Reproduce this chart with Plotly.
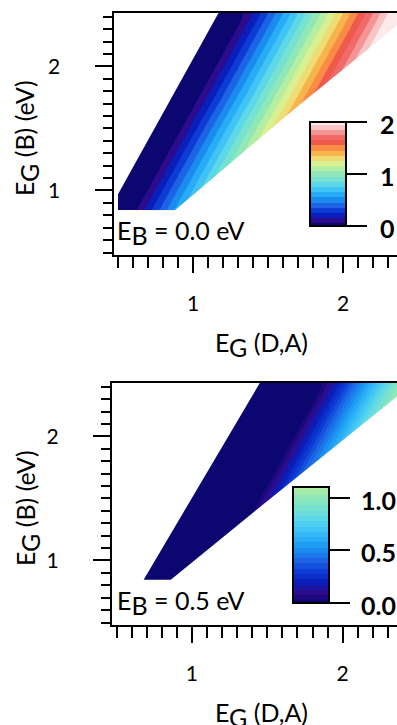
import plotly.graph_objects as go

# ---------------- data ----------------
# panel E_B = 0.0 eV : grid columns / rows and map values (rows follow eg_b_top)
eg_da_top = [0.5, 0.6, 0.7, 0.8, 0.9, 1.0, 1.1, 1.2, 1.3, 1.4,
             1.5, 1.6, 1.7, 1.8, 1.9, 2.0, 2.1, 2.2, 2.3, 2.4]
eg_b_top = [0.84, 1.06, 1.28, 1.50, 1.72, 1.94, 2.16, 2.38, 2.43]
N = None
z_eb00 = [
    [0, 0, 0.20, 0.40, 0.60, 0.80, 1.00, 1.20, N, N, N, N, N, N, N, N, N, N, N, N],
    [0, 0, 0, 0.20, 0.40, 0.60, 0.80, 1.00, 1.20, 1.40, N, N, N, N, N, N, N, N, N, N],
    [0, 0, 0, 0, 0.20, 0.40, 0.60, 0.80, 1.00, 1.20, 1.40, 1.60, N, N, N, N, N, N, N, N],
    [N, 0, 0, 0, 0, 0.20, 0.40, 0.60, 0.80, 1.00, 1.20, 1.40, 1.60, 1.80, N, N, N, N, N, N],
    [N, N, 0, 0, 0, 0, 0.19, 0.39, 0.59, 0.79, 0.99, 1.19, 1.39, 1.59, 1.79, 1.99, 2.19, N, N, N],
    [N, N, N, 0, 0, 0, 0, 0.19, 0.39, 0.59, 0.79, 0.99, 1.19, 1.39, 1.59, 1.79, 1.99, 2.19, 2.39, N],
    [N, N, N, N, 0, 0, 0, 0, 0.19, 0.39, 0.59, 0.79, 0.99, 1.19, 1.39, 1.59, 1.79, 1.99, 2.19, 2.39],
    [N, N, N, N, N, 0, 0, 0, 0, 0.19, 0.39, 0.59, 0.79, 0.99, 1.19, 1.39, 1.59, 1.79, 1.99, 2.19],
    [N, N, N, N, N, 0, 0, 0, 0, 0.15, 0.35, 0.55, 0.75, 0.95, 1.15, 1.35, 1.55, 1.75, 1.95, 2.15],
]

# panel E_B = 0.5 eV
eg_da_bot = [0.54, 0.64, 0.74, 0.84, 0.94, 1.04, 1.14, 1.24, 1.34, 1.44,
             1.54, 1.64, 1.74, 1.84, 1.94, 2.04, 2.14, 2.24, 2.34, 2.44]
eg_b_bot = [0.84, 1.06, 1.28, 1.50, 1.72, 1.94, 2.16, 2.38, 2.43]
z_eb05 = [
    [0, 0, 0, 0, 0, 0, 0, N, N, N, N, N, N, N, N, N, N, N, N, N],
    [N, 0, 0, 0, 0, 0, 0, 0, 0.19, N, N, N, N, N, N, N, N, N, N, N],
    [N, N, 0, 0, 0, 0, 0, 0, 0, 0.19, 0.38, N, N, N, N, N, N, N, N, N],
    [N, N, N, 0, 0, 0, 0, 0, 0, 0, 0.19, 0.38, 0.57, 0.76, N, N, N, N, N, N],
    [N, N, N, N, 0, 0, 0, 0, 0, 0, 0, 0.19, 0.38, 0.57, 0.76, 0.95, N, N, N, N],
    [N, N, N, N, N, 0, 0, 0, 0, 0, 0, 0, 0.19, 0.38, 0.57, 0.76, 0.95, 1.14, N, N],
    [N, N, N, N, N, N, 0, 0, 0, 0, 0, 0, 0, 0.19, 0.38, 0.57, 0.76, 0.95, 1.14, 1.33],
    [N, N, N, N, N, N, N, 0, 0, 0, 0, 0, 0, 0, 0.19, 0.38, 0.57, 0.76, 0.95, 1.14],
    [N, N, N, N, N, N, N, 0, 0, 0, 0, 0, 0, 0, 0.14, 0.33, 0.52, 0.71, 0.90, 1.09],
]

# edges of the computed region (where the maps stop)
eb00_upper_edge_x = [1.17, 0.50, 0.50]
eb00_upper_edge_y = [2.43, 0.97, 0.84]
eb00_lower_edge_x = [0.88, 1.66, 2.36, 2.45]
eb00_lower_edge_y = [0.84, 1.64, 2.33, 2.42]
eb05_upper_edge_x = [1.45, 0.68]
eb05_upper_edge_y = [2.43, 0.845]
eb05_lower_edge_x = [0.86, 1.415, 2.37, 2.45]
eb05_lower_edge_y = [0.845, 1.395, 2.33, 2.41]

panel_labels = ["0.0 eV", "0.5 eV"]

# colour bar ticks
cb_top_ticks = [0, 1, 2]
cb_top_text = ["0", "1", "2"]
cb_bot_ticks = [0.0, 0.5, 1.0]
cb_bot_text = ["0.0", "0.5", "1.0"]

# colour table: value -> colour
cb_values = [0.0, 0.1, 0.2, 0.3, 0.4, 0.5, 0.6, 0.7, 0.8, 0.9, 1.0,
             1.1, 1.2, 1.3, 1.4, 1.5, 1.6, 1.7, 1.8, 1.9, 2.0]
cb_colors = ["#0b0670", "#2c0c8c", "#0a1ebc", "#0c3cd4", "#1c64e4", "#1a8cf0",
             "#28acf6", "#40c4f6", "#5cd8e8", "#78e2d0", "#90e8b8", "#b4eea0",
             "#d8f090", "#f0dc74", "#f8b44c", "#f88c44", "#f05a4c", "#f06a6a",
             "#f49494", "#f8c4c4", "#fdeaea"]

# ---------------- figure ----------------
W, H = 397, 725
FONT = "Lato"
TS = 25  # title / label font size

TOP_MAX, BOT_MAX = 2.0, 1.1
top_scale = [[v / TOP_MAX, c] for v, c in zip(cb_values, cb_colors)]
bot_scale = [[v / BOT_MAX, c] for v, c in zip(cb_values, cb_colors) if v <= BOT_MAX + 1e-6]


def px_x(p):
    return p / W


def px_y(p):
    return 1 - p / H


def sub(main, s):
    return f"{main}<sub><span style='font-size:{TS}px'>{s}</span></sub>"


fig = go.Figure()

# colour bar geometry (pixels)
CB_TOP = dict(x=310, top=122, len=104)
CB_BOT = dict(x=293, top=487, len=116)

cb_common = dict(
    xanchor="left", yanchor="top", xpad=0, ypad=0, lenmode="pixels",
    thickness=36, outlinewidth=2, outlinecolor="black",
    ticks="outside", ticklen=20, tickwidth=2, tickcolor="black",
    showticklabels=False, borderwidth=0,
)

fig.add_trace(go.Contour(
    x=eg_da_top, y=eg_b_top, z=z_eb00, xaxis="x", yaxis="y",
    autocontour=False,
    contours=dict(start=0.05, end=1.95, size=0.1, coloring="fill", showlines=False),
    line=dict(width=0, smoothing=0), colorscale=top_scale, hoverinfo="skip",
    colorbar=dict(x=px_x(CB_TOP["x"]), y=px_y(CB_TOP["top"]), len=CB_TOP["len"],
                  tickvals=cb_top_ticks, **cb_common),
))
fig.add_trace(go.Contour(
    x=eg_da_bot, y=eg_b_bot, z=z_eb05, xaxis="x2", yaxis="y2",
    autocontour=False,
    contours=dict(start=0.025, end=1.075, size=0.05, coloring="fill", showlines=False),
    line=dict(width=0, smoothing=0), colorscale=bot_scale, hoverinfo="skip",
    colorbar=dict(x=px_x(CB_BOT["x"]), y=px_y(CB_BOT["top"]), len=CB_BOT["len"],
                  tickvals=cb_bot_ticks, **cb_common),
))


def mask(ux, uy, lx, ly, xa, ya):
    xs = [0.3] + ux + lx + [2.6, 2.6, 0.3, 0.3]
    ys = [uy[0]] + uy + ly + [ly[-1], 0.3, 0.3, uy[0]]
    return go.Scatter(x=xs, y=ys, xaxis=xa, yaxis=ya, mode="lines", fill="toself",
                      fillcolor="white", line=dict(width=0, color="white"),
                      hoverinfo="skip", showlegend=False)


fig.add_trace(mask(eb00_upper_edge_x, eb00_upper_edge_y,
                   eb00_lower_edge_x, eb00_lower_edge_y, "x", "y"))
fig.add_trace(mask(eb05_upper_edge_x, eb05_upper_edge_y,
                   eb05_lower_edge_x, eb05_lower_edge_y, "x2", "y2"))

xaxis_common = dict(
    showgrid=False, zeroline=False, showline=True, linewidth=2, linecolor="black",
    mirror=True, ticks="outside", tick0=0, dtick=1, ticklen=16, tickwidth=2,
    tickcolor="black", tickfont=dict(family=FONT, size=21, color="black"),
    ticklabelstandoff=13,
    minor=dict(ticks="outside", tick0=0, dtick=0.1, ticklen=11, tickwidth=2,
               tickcolor="black"),
    range=[0.47, 2.36],
)
yaxis_common = dict(
    showgrid=False, zeroline=False, showline=True, linewidth=2, linecolor="black",
    mirror=False, ticks="outside", tick0=0, dtick=1, ticklen=17, tickwidth=2,
    tickcolor="black", tickfont=dict(family=FONT, size=21, color="black"),
    ticklabelstandoff=30,
    minor=dict(ticks="outside", tick0=0, dtick=0.1, ticklen=9, tickwidth=2,
               tickcolor="black"),
    range=[0.48, 2.43],
)

fig.update_layout(
    width=W, height=H, margin=dict(l=0, r=0, t=0, b=0, autoexpand=False),
    paper_bgcolor="white", plot_bgcolor="white", showlegend=False,
    font=dict(family=FONT, color="black"),
    xaxis=dict(domain=[px_x(113.5), 1], anchor="y", **xaxis_common),
    yaxis=dict(domain=[px_y(255), px_y(13)], anchor="x", **yaxis_common),
    xaxis2=dict(domain=[px_x(112), 1], anchor="y2", **xaxis_common),
    yaxis2=dict(domain=[px_y(625), px_y(383)], anchor="x2", **yaxis_common),
)

title_font = dict(family=FONT, size=TS, color="black")
cb_font = dict(family=FONT, size=25, color="black", weight="bold")
xtitle = sub("E", "G") + " (D,A)"
ytitle = sub("E", "G") + " (B) (eV)"
annos = []
for k, off in enumerate([0, 370]):
    annos.append(dict(text=xtitle, xref="paper", yref="paper", x=px_x(261),
                      y=px_y(344 + off), xanchor="center", yanchor="middle",
                      showarrow=False, font=title_font))
    annos.append(dict(text=ytitle, xref="paper", yref="paper", x=px_x(27),
                      y=px_y(138 + off), xanchor="center", yanchor="middle",
                      textangle=-90, showarrow=False, font=title_font))
    annos.append(dict(text=sub("E", "B") + " = " + panel_labels[k],
                      xref="paper", yref="paper",
                      x=px_x(115), y=px_y(232 + off), xanchor="left",
                      yanchor="middle", showarrow=False, font=title_font))

# colour bar tick labels
for ticks, texts, geo, vmax, lx in [(cb_top_ticks, cb_top_text, CB_TOP, TOP_MAX, 378),
                                    (cb_bot_ticks, cb_bot_text, CB_BOT, BOT_MAX, 359)]:
    for v, t in zip(ticks, texts):
        ypx = geo["top"] + (vmax - v) / vmax * geo["len"] + 2
        annos.append(dict(text=t, xref="paper", yref="paper", x=px_x(lx),
                          y=px_y(ypx), xanchor="left", yanchor="middle",
                          showarrow=False, font=cb_font))
fig.update_layout(annotations=annos)

fig.write_html("out.html", config={"displayModeBar": False},
               post_script="document.body.style.margin='0px';")
